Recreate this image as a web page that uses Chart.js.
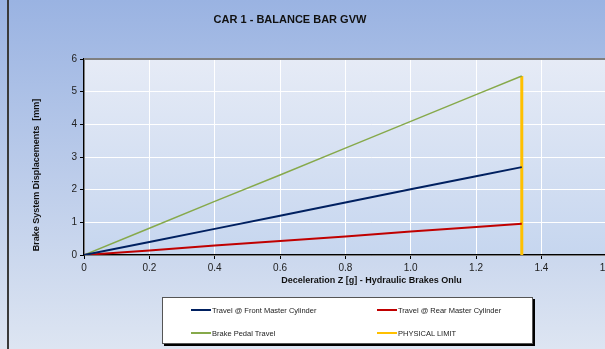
<!DOCTYPE html>
<html>
<head>
<meta charset="utf-8">
<script src="https://cdn.jsdelivr.net/npm/chart.js@4/dist/chart.umd.min.js"></script>
<style>
  html, body { margin: 0; padding: 0; width: 605px; height: 349px; overflow: hidden; }
  body { position: relative; background: linear-gradient(#9ab3e2, #dde5f2); font-family: "Liberation Sans", Arial, sans-serif; }
  #frame { position: absolute; left: 7px; top: 0; width: 2px; height: 349px; background: #3a3a3a; }
  #chart { position: absolute; left: 0; top: 0; }
  #legend {
    position: absolute; left: 162px; top: 297px; width: 371px; height: 47px;
    background: #fff; border: 1px solid #555; box-shadow: 2px 2px 0 #000;
    box-sizing: border-box; font-size: 7.5px; color: #222;
  }
  #legend .item { position: absolute; display: flex; align-items: center; height: 10px; }
  #legend .swatch { width: 20px; height: 2px; margin-right: 1px; }
</style>
</head>
<body>
<div id="frame"></div>
<canvas id="chart" width="700" height="349"></canvas>
<div id="legend"></div>
<script>
// deceleration [g]
const decel = [0, 0.2, 0.4, 0.6, 0.8, 1.0, 1.2, 1.34];
const frontTravel = [0, 0.40, 0.80, 1.20, 1.61, 2.01, 2.41, 2.69];
const rearTravel = [0, 0.14, 0.29, 0.43, 0.57, 0.72, 0.86, 0.96];
const pedalTravel = [0, 0.82, 1.64, 2.45, 3.27, 4.09, 4.91, 5.48];
const limitX = [1.34, 1.34];
const limitY = [0, 5.48];

const pts = (xs, ys) => xs.map((x, i) => ({ x: x, y: ys[i] }));

// plot background, top border and free-placed titles
const decor = {
    id: "decor",
    beforeDraw(chart) {
        const { ctx, chartArea: a } = chart;
        const g = ctx.createLinearGradient(0, a.top, 0, a.bottom);
        g.addColorStop(0, "#e6ebf6");
        g.addColorStop(1, "#c6d6ef");
        ctx.save();
        ctx.fillStyle = g;
        ctx.fillRect(a.left, a.top, a.right - a.left, a.bottom - a.top);
        ctx.restore();
    },
    afterDraw(chart) {
        const { ctx, chartArea: a } = chart;
        ctx.save();
        ctx.strokeStyle = "#7f7f7f";
        ctx.lineWidth = 2;
        ctx.beginPath();
        ctx.moveTo(a.left, a.top);
        ctx.lineTo(a.right, a.top);
        ctx.stroke();

        ctx.fillStyle = "#111";
        ctx.textAlign = "center";
        ctx.textBaseline = "middle";
        ctx.font = "bold 11px 'Liberation Sans', Arial";
        ctx.fillText("CAR 1 - BALANCE BAR GVW", 290, 20);

        ctx.translate(37, 175);
        ctx.rotate(-Math.PI / 2);
        ctx.font = "bold 9px 'Liberation Sans', Arial";
        ctx.fillText("Brake System Displacements  [mm]", 0, 0);
        ctx.restore();
    },
};

Chart.defaults.font.family = "'Liberation Sans', Arial, sans-serif";

const chart = new Chart(document.getElementById("chart").getContext("2d"), {
    type: "line",
    data: {
        datasets: [
            { label: "Travel @ Front Master Cylinder", data: pts(decel, frontTravel), borderColor: "#002060", borderWidth: 2 },
            { label: "Travel @ Rear Master Cylinder", data: pts(decel, rearTravel), borderColor: "#c00000", borderWidth: 2 },
            { label: "Brake Pedal Travel", data: pts(decel, pedalTravel), borderColor: "#86a94a", borderWidth: 1.5 },
            { label: "PHYSICAL LIMIT", data: pts(limitX, limitY), borderColor: "#ffc000", borderWidth: 3 },
        ],
    },
    options: {
        responsive: false,
        animation: false,
        elements: { point: { radius: 0 }, line: { tension: 0 } },
        layout: { padding: { top: 59, right: 41, left: 0, bottom: 61 } },
        plugins: { legend: { display: false }, tooltip: { enabled: false } },
        scales: {
            x: {
                type: "linear",
                min: 0,
                max: 1.76,
                afterFit: (s) => { s.height = 33; },
                grid: { color: "#ffffff", tickColor: "#000", tickLength: 4 },
                border: { color: "#000", width: 1.5 },
                ticks: { stepSize: 0.2, color: "#222", font: { size: 10 }, padding: 3, maxRotation: 0 },
                title: {
                    display: true,
                    text: "Deceleration Z [g] - Hydraulic Brakes Onlu",
                    color: "#111",
                    font: { size: 9, weight: "bold" },
                    padding: { top: 0, bottom: 2 },
                },
            },
            y: {
                min: 0,
                max: 6,
                afterFit: (s) => { s.width = 84; },
                grid: { color: "#ffffff", tickColor: "#000", tickLength: 4 },
                border: { color: "#000", width: 1.5 },
                ticks: { stepSize: 1, color: "#222", font: { size: 10 }, padding: 3 },
            },
        },
    },
    plugins: [decor],
});

// two-column legend box
const legend = document.getElementById("legend");
const spots = [[28, 7], [214, 7], [28, 30], [214, 30]];
chart.data.datasets.forEach((ds, k) => {
    const el = document.createElement("div");
    el.className = "item";
    el.style.left = spots[k][0] + "px";
    el.style.top = spots[k][1] + "px";
    el.innerHTML = '<span class="swatch" style="background:' + ds.borderColor + '"></span><span>' + ds.label + "</span>";
    legend.appendChild(el);
});
</script>
</body>
</html>
